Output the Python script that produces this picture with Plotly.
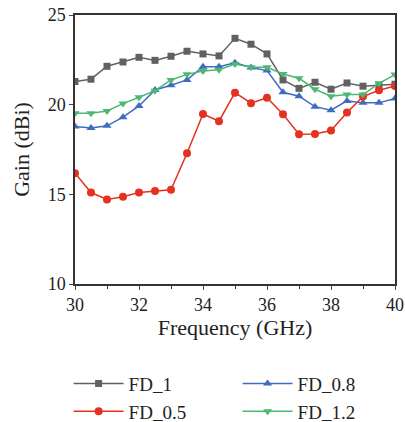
import plotly.graph_objects as go

freq = [30 + 0.5 * i for i in range(21)]
fd_1 = [21.29, 21.42, 22.14, 22.38, 22.64, 22.47, 22.70, 22.98, 22.83, 22.72, 23.70,
        23.37, 22.83, 21.38, 20.91, 21.25, 20.86, 21.21, 21.03, 21.08, 21.14]
fd_05 = [16.18, 15.10, 14.71, 14.86, 15.10, 15.18, 15.25, 17.29, 19.48, 19.08, 20.67,
         20.08, 20.39, 19.47, 18.35, 18.37, 18.56, 19.56, 20.45, 20.80, 21.04]
fd_08 = [18.78, 18.70, 18.82, 19.30, 19.93, 20.82, 21.08, 21.38, 22.12, 22.12, 22.34,
         22.07, 21.90, 20.69, 20.47, 19.89, 19.69, 20.21, 20.10, 20.10, 20.34]
fd_12 = [19.52, 19.52, 19.65, 20.06, 20.41, 20.78, 21.38, 21.69, 21.88, 21.95, 22.27,
         22.08, 22.08, 21.71, 21.47, 20.86, 20.47, 20.56, 20.56, 21.19, 21.68]

FONT = "Liberation Serif"
fig = go.Figure()
series = [
    ("FD_1", fd_1, "#616161", "square", 7),
    ("FD_0.8", fd_08, "#3d6cc2", "triangle-up", 8),
    ("FD_0.5", fd_05, "#e5311f", "circle", 8),
    ("FD_1.2", fd_12, "#4db872", "triangle-down", 8),
]
for name, ys, col, sym, sz in series:
    fig.add_trace(go.Scatter(x=freq, y=ys, name=name, mode="lines+markers",
                             line=dict(color=col, width=1.5),
                             marker=dict(symbol=sym, size=sz, color=col)))

fig.update_layout(
    width=405, height=422,
    margin=dict(l=75, r=10, t=15, b=138, autoexpand=False),
    plot_bgcolor="white", paper_bgcolor="white",
    font=dict(family=FONT, size=18, color="#222"),
    showlegend=True,
    legend=dict(orientation="h", x=-0.02, xanchor="left", y=-0.3, yanchor="top",
                entrywidth=104, entrywidthmode="pixels", itemwidth=50,
                tracegroupgap=0, font=dict(size=19, family=FONT)),
)
fig.update_xaxes(range=[30, 40], dtick=2, tick0=30, ticks="outside", ticklen=4,
                 showline=True, linecolor="#333", linewidth=1.5, mirror=True,
                 showgrid=False, zeroline=False,
                 minor=dict(dtick=1, ticks="outside", ticklen=3, tickcolor="#333"),
                 title=dict(text="Frequency (GHz)", standoff=4))
fig.update_yaxes(range=[10, 25], dtick=5, ticks="outside", ticklen=4,
                 showline=True, linecolor="#333", linewidth=1.5, mirror=True,
                 showgrid=False, zeroline=False,
                 title=dict(text="Gain (dBi)", standoff=12))
fig.write_html("out.html")
